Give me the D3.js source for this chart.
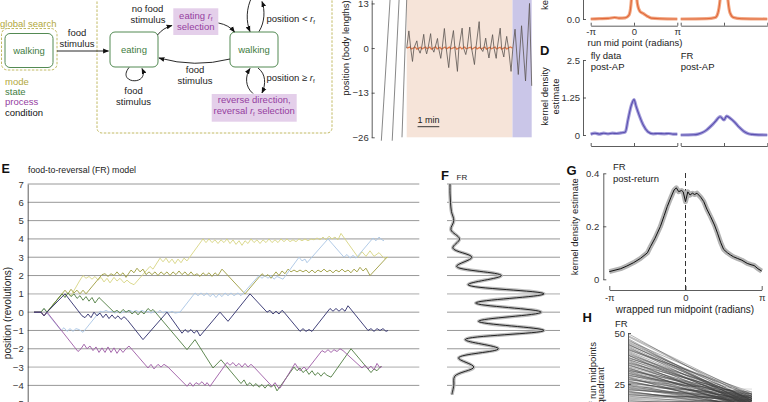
<!DOCTYPE html>
<html>
<head>
<meta charset="utf-8">
<script src="https://d3js.org/d3.v7.min.js"></script>
<style>
  body { margin: 0; background: #fff; }
  svg { display: block; font-family: "Liberation Sans", Arial, sans-serif; }
  text { fill: #222; font-size: 9.5px; }
  .plet { font-size: 13px; font-weight: bold; fill: #111; }
  .axis text { font-size: 9.5px; fill: #333; font-family: "Liberation Sans", Arial, sans-serif; }
  .axis path, .axis line { stroke: #333; stroke-width: 0.8; }
</style>
</head>
<body>
<svg id="fig" width="768" height="402"></svg>
<script>
// ---------------- data ----------------
// panel C trace: time (s) and position (body lengths)
var shadeStart = [0, 292], shadeEnd = [292, 345];
var traceT = [0,6,11,16,20,28,31,37,41,47,51,55,59,66,70,75,78,85,88,94,98,104,109,116,121,129,133,140,144,153,157,163,167,174,179,187,191,200,204,210,213,218,222,227,231,237,241,247,250,258,262,268,271,276,281,288,293,299,308,317,328,339,345];
var traceV = [0,5,0,-3.9,0,2.1,0,-1.5,0,4,0,-1.7,0,4.2,0,-1.2,0,2.8,0,-3,0,5.7,0,-5.7,0,5.1,0,-6.8,0,5.8,0,-1.9,0,6.1,0,-4.8,0,7.7,0,-1,0,2.9,0,-2.9,0,3.9,0,-3,0,5.8,0,-2.6,0,3.4,0,-6.8,0,5.5,-7.7,6.5,-9.6,13,-11];
var orangeT = [0,9,13,24,28,38,42,52,56,64,68,80,84,92,96,106,110,118,122,134,138,148,152,160,164,176,180,190,194,202,206,216,220,230,234,244,248,258,262,272,276,286,292];
var orangeV = [0,0.3,-0.25,0.25,-0.3,0.2,-0.25,0.3,-0.2,0.25,-0.3,0.35,-0.25,0.2,-0.3,0.3,-0.25,0.25,-0.2,0.3,-0.3,0.25,-0.25,0.3,-0.2,0.25,-0.3,0.3,-0.25,0.2,-0.25,0.3,-0.3,0.25,-0.2,0.3,-0.25,0.25,-0.3,0.2,-0.25,0.3,0];
var flyT0 = [-70,-40,-13], flyV0 = [-27,-27,-26], flyT1 = [-46,-21,0], flyV1 = [14,14,14];
var cTicks = [13, 0, -13, -26];

// top-right KDEs (x in units of pi)
var cFlyX = [-1,-0.8,-0.6,-0.45,-0.35,-0.2,-0.12,-0.08,-0.04,0,0.04,0.08,0.14,0.22,0.3,0.4,0.6,1];
var cFlyY = [0,0.01,0.02,0.05,0.03,0.04,0.12,0.35,1.1,2.4,1.2,0.5,0.25,0.18,0.1,0.03,0.01,0];
var cFrX = [-1,-0.4,-0.2,-0.14,-0.08,0,0.08,0.14,0.22,0.4,1];
var cFrY = [0,0.01,0.05,0.2,0.8,2.6,0.8,0.2,0.05,0.01,0];
var dFlyX = [-1,-0.9,-0.8,-0.7,-0.6,-0.5,-0.4,-0.3,-0.2,-0.14,-0.06,0,0.05,0.13,0.21,0.32,0.44,0.55,0.7,0.8,0.9,1];
var dFlyY = [0.03,0.06,0.03,0.06,0.04,0.06,0.05,0.07,0.1,0.5,1.0,1.18,0.95,0.62,0.34,0.11,0.04,0.05,0.04,0.05,0.03,0.03];
var dFrX = [-1,-0.7,-0.6,-0.5,-0.4,-0.3,-0.2,-0.09,0,0.06,0.15,0.25,0.35,0.45,0.55,0.65,0.8,1];
var dFrY = [0,0.01,0.03,0.08,0.17,0.3,0.45,0.61,0.5,0.63,0.55,0.42,0.26,0.13,0.05,0.02,0.005,0];
var dTicks = [0, 1.25, 2.5], dTickLabels = ["0", "1.25", "2.5"];
var piTicks = [-1, 0, 1], piLabels = ["-\u03c0", "0", "\u03c0"];

// panel E: FR model walks [time, revolutions]
var eTicks = [7,6,5,4,3,2,1,0,-1,-2,-3,-4,-5];
var walkYellow = [[0,0],[7,0],[10,0.2],[13,0],[28,1],[31,0.85],[34,1.05],[37,0.9],[46,1.75],[49,2],[52,1.85],[55,1.95],[58,1.8],[61,1.95],[64,1.75],[67,1.9],[70,1.65],[73,1.85],[76,1.6],[80,1.9],[83,1.7],[86,1.85],[90,1.6],[93,1.75],[96,1.6],[100,1.5],[116,2.5],[119,2.35],[126,2.95],[129,2.75],[132,2.95],[135,2.7],[138,2.9],[141,2.65],[144,2.9],[147,2.7],[150,2.95],[153,2.8],[169,4],[172,3.8],[175,4],[178,3.8],[181,3.95],[184,3.75],[187,3.95],[190,3.8],[193,4],[196,3.75],[199,3.95],[202,3.7],[205,3.9],[208,3.65],[211,3.9],[214,3.75],[217,4],[220,3.8],[223,3.95],[226,3.75],[229,3.95],[232,3.8],[235,4],[238,3.8],[241,3.95],[244,3.8],[247,4],[250,3.85],[253,4],[256,3.85],[259,3.95],[262,3.85],[265,4],[268,3.9],[271,4],[274,3.9],[277,4],[280,3.95],[283,4.05],[286,3.95],[289,4.1],[292,3.95],[295,4.15],[298,4],[301,4.1],[304,3.95],[307,4.3],[324,3],[328,3.3],[332,3.05],[336,3.35],[340,3.05],[345,3.25],[350,2.95],[354,3]];
var walkOlive = [[0,0],[7,0],[10,-0.2],[13,0],[28,1],[31,1.2],[34,1.0],[37,1.25],[40,1.05],[43,1.2],[46,1],[49,1.2],[52,1.0],[68,2.05],[71,2.1],[74,1.95],[77,2.1],[80,2.0],[83,2.2],[86,2.0],[89,2.15],[92,1.9],[97,2.3],[100,2.15],[103,2.4],[106,2.2],[109,2.35],[112,2.05],[115,2.2],[118,2.05],[121,2.2],[124,2.0],[127,2.2],[130,2.05],[133,2.2],[136,2.0],[139,2.2],[142,2.05],[145,2.25],[148,2.05],[151,2.2],[154,2.0],[157,2.2],[160,2.0],[163,2.1],[166,1.95],[169,2.15],[172,2.0],[175,2.15],[178,1.95],[181,2.15],[184,2.0],[188,2.35],[211,1.0],[228,2.1],[231,1.95],[234,2.05],[237,1.85],[242,2.2],[245,2.0],[248,2.25],[251,2.1],[254,2.35],[257,2.2],[260,2.3],[263,2.2],[266,2.3],[269,2.2],[272,2.3],[275,2.15],[278,2.3],[281,2.15],[284,2.3],[287,2.2],[290,2.35],[293,2.2],[296,2.3],[299,2.15],[302,2.3],[305,2.2],[308,2.35],[311,2.2],[314,2.3],[317,2.15],[320,2.35],[323,2.2],[326,2.45],[329,2.25],[332,2.4],[336,2.0],[353,3]];
var walkBlue = [[0,0],[7,0],[10,0.2],[13,-0.05],[27,-1],[30,-0.85],[33,-1.05],[36,-0.9],[39,-1.05],[42,-0.9],[45,-0.95],[49,-1.1],[66,0.05],[69,0],[72,0.1],[75,0],[78,0.05],[81,-0.05],[84,0.05],[87,-0.05],[90,0.05],[93,0],[96,0.1],[99,0],[102,0.1],[105,0],[108,0.1],[111,0],[114,0.05],[117,-0.05],[120,0.05],[123,-0.05],[126,0.1],[129,-0.05],[132,0.05],[135,-0.05],[138,0.05],[141,-0.05],[146,0],[161,1.05],[164,0.9],[167,1.05],[170,0.9],[173,1.05],[176,0.85],[179,1],[182,0.8],[185,1],[188,0.85],[191,1.05],[194,0.9],[197,1.05],[200,0.9],[204,1.05],[207,0.9],[225,2.0],[228,1.85],[231,2.0],[234,1.85],[237,2.0],[240,1.8],[243,1.95],[249,1.8],[265,3.0],[268,2.8],[271,2.9],[273,2.7],[294,4.0],[310,3.0],[313,3.15],[316,2.95],[319,3.1],[322,2.95],[339,4.05],[342,3.9],[345,4.1],[348,3.95],[350,3.9]];
var walkNavy = [[0,0],[7,0],[10,-0.2],[13,0],[31,1],[48,-0.2],[51,-0.3],[54,-0.1],[57,-0.3],[60,0],[63,-0.2],[66,-0.05],[69,-0.3],[72,-0.1],[75,-0.35],[78,-0.15],[81,-0.35],[84,-0.2],[87,-0.4],[90,-0.25],[93,-0.4],[109,-1.5],[133,0],[148,-1.15],[151,-0.95],[154,-1.1],[157,-0.95],[160,-1.15],[163,-1.0],[166,-1.3],[186,0],[194,-0.5],[216,1],[233,0],[236,0.1],[239,-0.1],[242,0.05],[245,-0.1],[248,0.1],[250,0],[266,-1.05],[269,-0.9],[272,-1.05],[275,-0.95],[278,-1.05],[296,0.2],[299,0.05],[302,0.2],[305,0.05],[308,0.2],[311,0.05],[314,0.35],[334,-1],[337,-0.9],[340,-1.05],[343,-0.9],[346,-1.0],[349,-0.9],[352,-1.05],[354,-1.0]];
var walkGreen = [[0,0],[7,0],[10,0.2],[13,0],[28,1],[31,0.8],[34,1.05],[37,0.85],[40,1.0],[43,0.75],[46,0.9],[49,0.65],[52,0.85],[55,0.6],[58,0.8],[61,0.5],[65,0.8],[80,0],[83,0.1],[86,-0.05],[89,0.15],[92,0],[95,0.1],[98,-0.1],[101,0.05],[104,-0.15],[107,0.05],[110,-0.1],[114,0.2],[117,0.05],[119,0.15],[153,-2.05],[161,-1.5],[179,-3.05],[187,-2.6],[207,-3.9],[210,-3.7],[213,-4.0],[216,-3.85],[219,-4.05],[222,-3.9],[225,-4.1],[228,-3.95],[231,-4.15],[234,-3.95],[237,-4.1],[240,-3.95],[243,-4.3],[260,-3.0],[263,-3.2],[266,-3.05],[269,-3.3],[272,-3.15],[275,-3.4],[278,-3.2],[281,-3.45],[284,-3.3],[287,-3.5],[290,-3.3],[293,-3.45],[297,-3.55],[317,-2.0],[337,-3.3],[340,-3.1],[343,-3.2],[347,-2.95]];
var walkPurple = [[0,0],[7,0],[10,-0.2],[13,0],[44,-2.15],[47,-2.0],[50,-1.75],[53,-2.0],[56,-1.85],[59,-2.1],[62,-1.9],[65,-2.2],[68,-1.95],[71,-2.2],[74,-1.9],[77,-2.2],[80,-1.95],[83,-2.25],[86,-2.0],[89,-2.2],[92,-2.0],[95,-1.85],[114,-3.05],[117,-2.85],[120,-3.1],[124,-2.85],[127,-3.0],[130,-2.85],[134,-3.0],[153,-4.05],[156,-3.85],[159,-4.05],[162,-3.85],[165,-3.95],[168,-3.8],[171,-4.0],[173,-3.85],[176,-4.05],[193,-2.75],[196,-2.9],[199,-2.75],[202,-2.95],[205,-2.8],[208,-3.0],[211,-2.8],[214,-3.0],[217,-2.85],[220,-3.0],[238,-4.05],[241,-3.85],[244,-4.1],[246,-4.15],[261,-2.8],[266,-3.2],[270,-3.0],[273,-3.15],[288,-2.1],[291,-2.2],[294,-2.05],[297,-2.2],[300,-2.05],[303,-2.15],[306,-2.0],[309,-2.1],[328,-3.05],[331,-2.9],[334,-3.1],[337,-2.95],[340,-3.15],[343,-2.8],[346,-3.05],[348,-2.95]];
var walks = [walkYellow, walkOlive, walkBlue, walkGreen, walkPurple, walkNavy];
var walkColors = ["#d7d582", "#9d9c3e", "#a9c5e4", "#4f7d41", "#9d5aa5", "#2d2d6b"];

// panel F: position density (revolutions, density)
var fRev = [7.0,6.5,6.0,5.5,5.0,4.5,4.0,3.5,3.0,2.5,2.0,1.5,1.0,0.5,0.0,-0.5,-1.0,-1.5,-2.0,-2.5,-3.0,-3.5,-4.0,-4.5];
var fDen = [0,0,0.005,0.015,0.04,0.01,0.1,0.03,0.23,0.07,0.54,0.19,0.99,0.27,0.96,0.30,0.99,0.16,0.51,0.09,0.25,0.05,0.04,0.02];

// panel G: wrapped run midpoint density (x in units of pi)
var gX = [-1,-0.85,-0.77,-0.68,-0.59,-0.5,-0.46,-0.4,-0.33,-0.28,-0.24,-0.19,-0.15,-0.12,-0.09,-0.05,-0.03,0,0.03,0.06,0.09,0.12,0.15,0.2,0.24,0.28,0.33,0.38,0.42,0.46,0.5,0.55,0.59,0.63,0.68,0.74,0.81,0.86,0.9,0.95,1];
var gY = [0.029,0.04,0.05,0.063,0.079,0.1,0.123,0.155,0.199,0.24,0.274,0.31,0.337,0.345,0.331,0.335,0.33,0.293,0.33,0.318,0.325,0.32,0.325,0.31,0.293,0.265,0.236,0.205,0.174,0.14,0.113,0.1,0.092,0.085,0.079,0.072,0.06,0.055,0.052,0.04,0.031];
var gTicks = [0, 0.2, 0.4], gTickLabels = ["0", "0.2", "0.4"];

// panel H: run midpoints per quadrant (left vs right)
var hLeft = [49.5,48,47,46,45.5,44.5,44,43,42.5,41.5,41,40,39.5,39,38,37.5,37,36,35.5,35,34.5,34,33,32.5,32,31.5,31,30.5,30,29.5,29,28.5,28,27.5,27,26.5,26,25.5,25,24.5,24,23.5,23,22.5,22,21.5,21,20,19.5,19,18,17.5,24,16,15,14,
    48.5,46.5,45,43.5,42,40.5,39,37.8,36.5,35.2,34.2,33.4,32.6,31.8,31.2,30.2,29.2,28.2,27.2,26.2,25.2,24.2,23.2,22.2,21.2,20.5,19.8,18.5,17,16.5,15.5,36.8,38.8,41.8,44.2];
var hRight = [16,18,14,20,17,15,19,13,17,21,16,14,18,12,17,20,15,13,19,16,14,18,12,17,15,20,13,16,18,14,19,15,12,17,21,14,16,18,13,15,20,17,14,16,19,13,15,17,18,14,16,15,22.5,17,16,15,
    19,13,17,15,20,14,18,16,12,19,15,17,13,18,16,14,20,12,17,15,19,13,16,18,14,17,15,19,13,16,14,18,15,17,16];
var hTicks = [25, 50];

// ---------------- drawing ----------------
var svg = d3.select("#fig");

svg.append("defs").append("marker")
    .attr("id", "arr").attr("viewBox", "0 0 10 10")
    .attr("refX", 9).attr("refY", 5)
    .attr("markerUnits", "userSpaceOnUse")
    .attr("markerWidth", 6).attr("markerHeight", 6)
    .attr("orient", "auto")
    .append("path").attr("d", "M0,1L10,5L0,9z").attr("fill", "#111");

function label(g, x, y, s, color, anchor, size) {
    return g.append("text").attr("x", x).attr("y", y)
        .attr("text-anchor", anchor || "start")
        .style("fill", color || "#222")
        .style("font-size", (size || 9.5) + "px")
        .text(s);
}

function vlabel(g, x, y, s, anchor, size) {
    return g.append("text")
        .attr("transform", "translate(" + x + "," + y + ") rotate(-90)")
        .attr("text-anchor", anchor || "middle")
        .style("font-size", (size || 9.5) + "px")
        .text(s);
}

// text with italic r and subscript f
function rfText(g, x, y, pre, post, color, anchor) {
    var t = g.append("text").attr("x", x).attr("y", y)
        .attr("text-anchor", anchor || "middle").style("fill", color);
    t.append("tspan").text(pre);
    t.append("tspan").style("font-style", "italic").text("r");
    t.append("tspan").attr("dy", 2).style("font-size", "6px").text("f");
    if (post) t.append("tspan").attr("dy", -2).text(post);
    return t;
}

// ---- state diagram (top left)
var cMode = "#b2a83c", cState = "#3f7d3f", cProc = "#95409f", cProcBg = "#e4cfea";
var dg = svg.append("g");

label(dg, 0, 26.5, "global search", cMode);
dg.append("rect").attr("x", 1.5).attr("y", 28.5).attr("width", 55.5).attr("height", 41.5).attr("rx", 6)
    .attr("fill", "none").attr("stroke", cMode).attr("stroke-width", 0.8).attr("stroke-dasharray", "2.5,1.5");
dg.append("rect").attr("x", 97).attr("y", -4).attr("width", 235).attr("height", 137).attr("rx", 5)
    .attr("fill", "none").attr("stroke", cMode).attr("stroke-width", 0.8).attr("stroke-dasharray", "2.5,1.5");

[[5, 33.5, 48, 34, "walking"], [110, 32, 48, 35, "eating"], [230, 32, 48, 35, "walking"]].forEach(function(b) {
    dg.append("rect").attr("x", b[0]).attr("y", b[1]).attr("width", b[2]).attr("height", b[3]).attr("rx", 5)
        .attr("fill", "#fff").attr("stroke", cState).attr("stroke-width", 0.9);
    label(dg, b[0] + b[2] / 2, b[1] + b[3] / 2 + 3.3, b[4], cState, "middle");
});

// purple process boxes
dg.append("rect").attr("x", 173.3).attr("y", 8.3).attr("width", 45).attr("height", 26.7).attr("fill", cProcBg);
rfText(dg, 195.8, 19.3, "eating ", null, cProc);
label(dg, 195.8, 30, "selection", cProc, "middle");
dg.append("rect").attr("x", 211.7).attr("y", 94).attr("width", 85).attr("height", 27.7).attr("fill", cProcBg);
label(dg, 254.2, 103.3, "reverse direction,", cProc, "middle");
rfText(dg, 254.2, 114.3, "reversal ", " selection", cProc);

// arrows
var arrows = [
    "M57,51 L108.5,51",
    "M129,67.5 C116,84 150,86 142,68.5",
    "M157.5,35 Q163,28 172,25.5",
    "M218.5,23 Q229,25 234.5,32",
    "M230,59 Q195,68 159,58",
    "M259,31.5 C265,22 265,10 262,1.5",
    "M252,-3 C246,8 246,22 250,31.5",
    "M253,93.5 C245,87 245,76 250,68.5",
    "M258,68 C266,74 266,84 262,93"
];
dg.selectAll(".arrow").data(arrows).join("path")
    .attr("class", "arrow").attr("d", function(d) { return d; })
    .attr("fill", "none").attr("stroke", "#111").attr("stroke-width", 0.9)
    .attr("marker-end", "url(#arr)");

label(dg, 77, 35.6, "food", "#222", "middle");
label(dg, 77, 46.6, "stimulus", "#222", "middle");
label(dg, 147.5, 11.6, "no food", "#222", "middle");
label(dg, 148, 22.6, "stimulus", "#222", "middle");
label(dg, 195, 73.3, "food", "#222", "middle");
label(dg, 195, 84, "stimulus", "#222", "middle");
label(dg, 133.5, 94, "food", "#222", "middle");
label(dg, 133.5, 105, "stimulus", "#222", "middle");
rfText(dg, 266.5, 21.6, "position < ", null, "#222", "start");
rfText(dg, 266.5, 80.6, "position \u2265 ", null, "#222", "start");

label(dg, 5, 85, "mode", cMode);
label(dg, 5, 95, "state", cState);
label(dg, 5, 105, "process", cProc);
label(dg, 5, 115.6, "condition", "#111");

// ---- position trace (top middle)
var tX = d3.scaleLinear().domain([0, 345]).range([406.7, 531.7]);
var cY = d3.scaleLinear().domain([-26, 14]).range([137.3, 0]);
var cg = svg.append("g");
var shadeColors = ["#f6e4d9", "#cac6e8"];
cg.selectAll(".shade").data(shadeStart).join("rect")
    .attr("x", function(d) { return tX(d); })
    .attr("y", 0)
    .attr("width", function(d, i) { return tX(shadeEnd[i]) - tX(d); })
    .attr("height", cY(-26) - 0)
    .attr("fill", function(d, i) { return shadeColors[i]; });

cg.selectAll(".fly").data(flyT0).join("line")
    .attr("x1", function(d) { return tX(d); })
    .attr("y1", function(d, i) { return cY(flyV0[i]); })
    .attr("x2", function(d, i) { return tX(flyT1[i]); })
    .attr("y2", function(d, i) { return cY(flyV1[i]); })
    .attr("stroke", "#555").attr("stroke-width", 0.7);

cg.append("path")
    .attr("d", d3.line().x(function(d) { return tX(d); }).y(function(d, i) { return cY(orangeV[i]); })(orangeT))
    .attr("fill", "none").attr("stroke", "#e27a4c").attr("stroke-width", 1.3);
cg.append("path")
    .attr("d", d3.line().x(function(d) { return tX(d); }).y(function(d, i) { return cY(traceV[i]); })(traceT))
    .attr("fill", "none").attr("stroke", "#5a5450").attr("stroke-width", 0.8);

cg.append("g").attr("class", "axis").attr("transform", "translate(371.7,0)")
    .call(d3.axisLeft(cY).tickValues(cTicks).tickSize(-3).tickSizeOuter(0).tickPadding(3));
vlabel(cg, 349, 48, "position (body lengths)");
cg.append("line").attr("x1", tX(30)).attr("x2", tX(90)).attr("y1", 126.7).attr("y2", 126.7)
    .attr("stroke", "#222").attr("stroke-width", 0.9);
label(cg, tX(60), 122.5, "1 min", "#222", "middle", 9);

// ---- KDE panels (top right)
var kxL = d3.scaleLinear().domain([-1, 1]).range([590.7, 677.3]);
var kxR = d3.scaleLinear().domain([-1, 1]).range([680.7, 767.3]);
var topY = d3.scaleLinear().domain([0, 2.5]).range([19, -55.5]);
var dY = d3.scaleLinear().domain([0, 2.5]).range([135, 60]);
var kg = svg.append("g");

function kde(xs, ys, xsc, ysc, band, line) {
    var gen = d3.line().curve(d3.curveMonotoneX)
        .x(function(d) { return xsc(d); })
        .y(function(d, i) { return ysc(ys[i]); });
    kg.append("path").attr("d", gen(xs)).attr("fill", "none")
        .attr("stroke", band).attr("stroke-width", 3.2).attr("stroke-linejoin", "round");
    kg.append("path").attr("d", gen(xs)).attr("fill", "none")
        .attr("stroke", line).attr("stroke-width", 1.1);
}
kde(cFlyX, cFlyY, kxL, topY, "#f2a884", "#e0683a");
kde(cFrX, cFrY, kxR, topY, "#f2a884", "#e0683a");
kde(dFlyX, dFlyY, kxL, dY, "#a39dd9", "#5b50b0");
kde(dFrX, dFrY, kxR, dY, "#a39dd9", "#5b50b0");

[[kxL, 25.7, true], [kxR, 25.7, false], [kxL, 146, false], [kxR, 146, false]].forEach(function(a) {
    kg.append("g").attr("class", "axis").attr("transform", "translate(0," + a[1] + ")")
        .call(d3.axisBottom(a[0]).tickValues(piTicks).tickSize(-3).tickSizeOuter(0).tickPadding(3)
            .tickFormat(function(d, i) { return a[2] ? piLabels[i] : ""; }));
});
label(kg, 635, 45.6, "run mid point (radians)", "#222", "middle");

kg.append("g").attr("class", "axis").attr("transform", "translate(583,0)")
    .call(d3.axisLeft(topY).tickValues([0]).tickSize(-3).tickSizeOuter(0).tickPadding(3));
kg.append("g").attr("class", "axis").attr("transform", "translate(583,0)")
    .call(d3.axisLeft(dY).tickValues(dTicks).tickSize(-3).tickSizeOuter(0).tickPadding(3)
        .tickFormat(function(d, i) { return dTickLabels[i]; }));

vlabel(kg, 548, 10, "kernel density", "start");
vlabel(kg, 548, 96.5, "kernel density");
vlabel(kg, 559, 96.5, "estimate");
svg.append("text").attr("class", "plet").attr("x", 540).attr("y", 55).text("D");
label(kg, 590.7, 58.5, "fly data");
label(kg, 590.7, 69.5, "post-AP");
label(kg, 680.7, 58.5, "FR");
label(kg, 680.7, 69.5, "post-AP");

// ---- panel E
var eX = d3.scaleLinear().domain([0, 354]).range([34, 388]);
var eY = d3.scaleLinear().domain([-5, 7]).range([403.7, 184]);
var lightRows = [1, -3];
var eg = svg.append("g");

function gridRows(g, x1, x2) {
    g.selectAll(".row").data(eTicks).join("line")
        .attr("x1", x1).attr("x2", x2)
        .attr("y1", function(d) { return eY(d); }).attr("y2", function(d) { return eY(d); })
        .attr("stroke", function(d) { return lightRows.indexOf(d) >= 0 ? "#cfcfcf" : "#8c8c8c"; })
        .attr("stroke-width", function(d) { return lightRows.indexOf(d) >= 0 ? 1.6 : 0.9; });
}
gridRows(eg, 27.7, 419.3);

var walkLine = d3.line().x(function(d) { return eX(d[0]); }).y(function(d) { return eY(d[1]); });
eg.selectAll(".walk").data(walks).join("path")
    .attr("d", walkLine)
    .attr("fill", "none")
    .attr("stroke", function(d, i) { return walkColors[i]; })
    .attr("stroke-width", 0.9);

eg.append("g").attr("class", "axis").attr("transform", "translate(27.7,0)")
    .call(d3.axisLeft(eY).tickValues(eTicks).tickSize(0).tickSizeOuter(0).tickPadding(4));
vlabel(eg, 10.5, 313, "position (revolutions)", "middle", 10);
svg.append("text").attr("class", "plet").attr("x", 1.5).attr("y", 172.7).style("font-size", "12.5px").text("E");
label(eg, 28, 172.5, "food-to-reversal (FR) model", "#222", "start", 8.8);

// ---- panel F
var fX = d3.scaleLinear().domain([0, 1]).range([450, 545]);
var fg = svg.append("g");
gridRows(fg, 447, 560);
var fLine = d3.line().curve(d3.curveCatmullRom)
    .x(function(d, i) { return fX(fDen[i]); })
    .y(function(d) { return eY(d); });
fg.append("path").attr("d", fLine(fRev)).attr("fill", "none").attr("stroke", "#bdbdbd").attr("stroke-width", 3.5);
fg.append("path").attr("d", fLine(fRev)).attr("fill", "none").attr("stroke", "#111").attr("stroke-width", 0.9);
svg.append("text").attr("class", "plet").attr("x", 441).attr("y", 180).text("F");
label(fg, 456.5, 179.5, "FR", "#222", "start", 8);

// ---- panel G
var gXs = d3.scaleLinear().domain([-1, 1]).range([609.3, 761.7]);
var gYs = d3.scaleLinear().domain([0, 0.4]).range([279.3, 173.3]);
var gg = svg.append("g");
var gLine = d3.line().x(function(d) { return gXs(d); }).y(function(d, i) { return gYs(gY[i]); });
gg.append("line").attr("x1", gXs(0)).attr("x2", gXs(0)).attr("y1", 173).attr("y2", 290)
    .attr("stroke", "#333").attr("stroke-width", 1).attr("stroke-dasharray", "5,3");
gg.append("path").attr("d", gLine(gX)).attr("fill", "none").attr("stroke", "#b3b3b3")
    .attr("stroke-width", 5).attr("stroke-linejoin", "round");
gg.append("path").attr("d", gLine(gX)).attr("fill", "none").attr("stroke", "#111").attr("stroke-width", 1);
gg.append("g").attr("class", "axis").attr("transform", "translate(0,290)")
    .call(d3.axisBottom(gXs).tickValues(piTicks).tickSize(-4).tickSizeOuter(0).tickPadding(4)
        .tickFormat(function(d, i) { return piLabels[i]; }));
gg.append("g").attr("class", "axis").attr("transform", "translate(603.3,0)")
    .call(d3.axisLeft(gYs).tickValues(gTicks).tickSize(-3).tickSizeOuter(0).tickPadding(4)
        .tickFormat(function(d, i) { return gTickLabels[i]; }));
vlabel(gg, 578, 226.7, "kernel density estimate");
label(gg, 685, 313.3, "wrapped run midpoint (radians)", "#222", "middle", 10);
svg.append("text").attr("class", "plet").attr("x", 566.5).attr("y", 175).text("G");
label(gg, 613, 170, "FR");
label(gg, 613, 181.6, "post-return");

// ---- panel H
var hX = d3.scalePoint().domain(["a", "b"]).range([629, 752]);
var hY = d3.scaleLinear().domain([0, 50]).range([435, 333]);
var hg = svg.append("g");
hg.selectAll(".pair").data(hLeft).join("line")
    .attr("x1", hX("a")).attr("x2", hX("b"))
    .attr("y1", function(d) { return hY(d); })
    .attr("y2", function(d, i) { return hY(hRight[i]); })
    .attr("stroke", function(d, i) { return hRight[i] > 22 ? "#c4c4c4" : "#3a3a3a"; })
    .attr("stroke-opacity", function(d, i) { return hRight[i] > 22 ? 1 : 0.65; })
    .attr("stroke-width", 0.6);
hg.append("g").attr("class", "axis").attr("transform", "translate(628,0)")
    .call(d3.axisLeft(hY).tickValues(hTicks).tickSize(-3).tickSizeOuter(0).tickPadding(3));
vlabel(hg, 596, 342, "number of run midpoints", "end");
vlabel(hg, 604, 367, "per quadrant", "end");
svg.append("text").attr("class", "plet").attr("x", 582.5).attr("y", 322).text("H");
label(hg, 615, 326.5, "FR");
</script>
</body>
</html>
